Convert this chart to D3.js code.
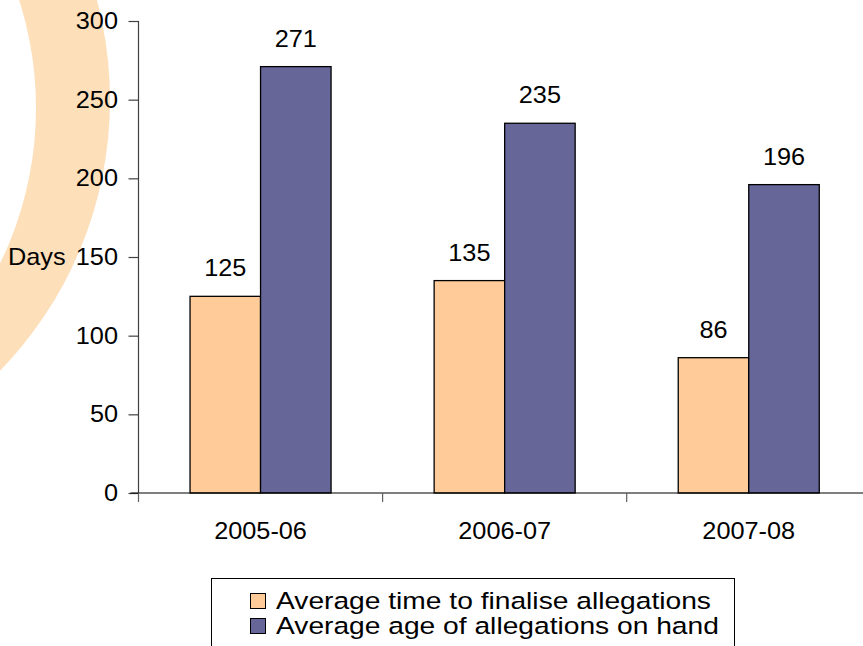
<!DOCTYPE html>
<html>
<head>
<meta charset="utf-8">
<script src="https://cdn.jsdelivr.net/npm/d3@7/dist/d3.min.js"></script>
<style>
  html, body { margin: 0; padding: 0; background: #fff; overflow: hidden; }
  svg { display: block; font-family: "Liberation Sans", Arial, sans-serif; }
</style>
</head>
<body>
<svg id="chart" width="863" height="646"></svg>
<script>
const categories = ["2005-06", "2006-07", "2007-08"];
const seriesNames = ["Average time to finalise allegations", "Average age of allegations on hand"];
const finaliseValues = [125, 135, 86];
const ageValues = [271, 235, 196];
const yTicks = [0, 50, 100, 150, 200, 250, 300];
const seriesColors = ["#FFCC99", "#666699"];

const svg = d3.select("#chart");

function label(g, x, y, txt, size, anchor, sx) {
  return g.append("text")
    .attr("transform", `translate(${x},${y}) scale(${sx || 1.1},1)`)
    .attr("text-anchor", anchor || "middle")
    .attr("font-size", size)
    .attr("fill", "#000")
    .text(txt);
}

// decorative ring
svg.append("path")
  .attr("fill", "#FDDFBA")
  .attr("fill-rule", "evenodd")
  .attr("d", (() => {
    const p = d3.path();
    p.moveTo(-278 + 388, 100); p.arc(-278, 100, 388, 0, Math.PI * 2);
    p.moveTo(-318 + 354, 108); p.arc(-318, 108, 354, 0, Math.PI * 2);
    return p.toString();
  })());

const x0 = 138.5, step = 244.1;
const x = d3.scaleBand().domain(categories).range([x0, x0 + step * categories.length]).paddingInner(0).paddingOuter(0);
const xs = d3.scaleBand().domain([0, 1]).range([0, x.bandwidth()]).paddingInner(0).paddingOuter(0.731);
const y = d3.scaleLinear().domain([0, 300]).range([493, 21]);

const data = categories.map((c, i) => ({ cat: c, vals: [finaliseValues[i], ageValues[i]] }));

// bars
const groups = svg.append("g").selectAll("g").data(data).join("g")
  .attr("transform", d => `translate(${x(d.cat)},0)`);
groups.selectAll("rect").data(d => d.vals.map((v, k) => ({ v, k }))).join("rect")
  .attr("x", d => xs(d.k))
  .attr("y", d => y(d.v))
  .attr("width", xs.bandwidth())
  .attr("height", d => y(0) - y(d.v))
  .attr("fill", d => seriesColors[d.k])
  .attr("stroke", "#000")
  .attr("stroke-width", 1.3);
groups.each(function(d) {
  const g = d3.select(this);
  d.vals.forEach((v, k) => {
    label(g, xs(k) + xs.bandwidth() / 2, y(v) - 20, String(v), 23);
  });
});

// y axis
const ya = svg.append("g").attr("transform", `translate(${x0},0)`)
  .call(d3.axisLeft(y).tickValues(yTicks).tickSize(10).tickFormat(""));
ya.selectAll("path, line").attr("stroke", "#404040").attr("stroke-width", 1.2);
ya.select(".domain").attr("d", `M0,${y(300)}V${y(0)}`);
yTicks.forEach(t => label(svg, 118, y(t) + 8, String(t), 23, "end"));
label(svg, 8, y(150) + 8, "Days", 23, "start");

// x axis
const xa = svg.append("g").attr("transform", `translate(0,${y(0)})`)
  .call(d3.axisBottom(x).tickSize(0).tickFormat(""));
xa.select(".domain").attr("d", `M${x0 - 8},0H${x0 + step * 3}`).attr("stroke", "#000").attr("stroke-width", 1.2);
const boundaries = d3.range(categories.length + 1).map(i => x0 + i * step);
xa.selectAll(".bnd").data(boundaries).join("line").attr("class", "bnd")
  .attr("x1", d => d).attr("x2", d => d).attr("y1", 0).attr("y2", 9)
  .attr("stroke", "#606060").attr("stroke-width", 1.2);
categories.forEach(c => label(svg, x(c) + x.bandwidth() / 2, 539, c, 23));

// legend
const lg = svg.append("g");
lg.append("rect").attr("x", 211.5).attr("y", 578.5).attr("width", 523).attr("height", 100)
  .attr("fill", "#fff").attr("stroke", "#000").attr("stroke-width", 1);
seriesNames.forEach((s, i) => {
  const yy = 593 + i * 25;
  lg.append("rect").attr("x", 250.5).attr("y", yy + 0.5).attr("width", 15).attr("height", 15)
    .attr("fill", seriesColors[i]).attr("stroke", "#000").attr("stroke-width", 1);
  label(lg, 276, yy + 16, s, 23.5, "start", 1.2);
});
</script>
</body>
</html>
